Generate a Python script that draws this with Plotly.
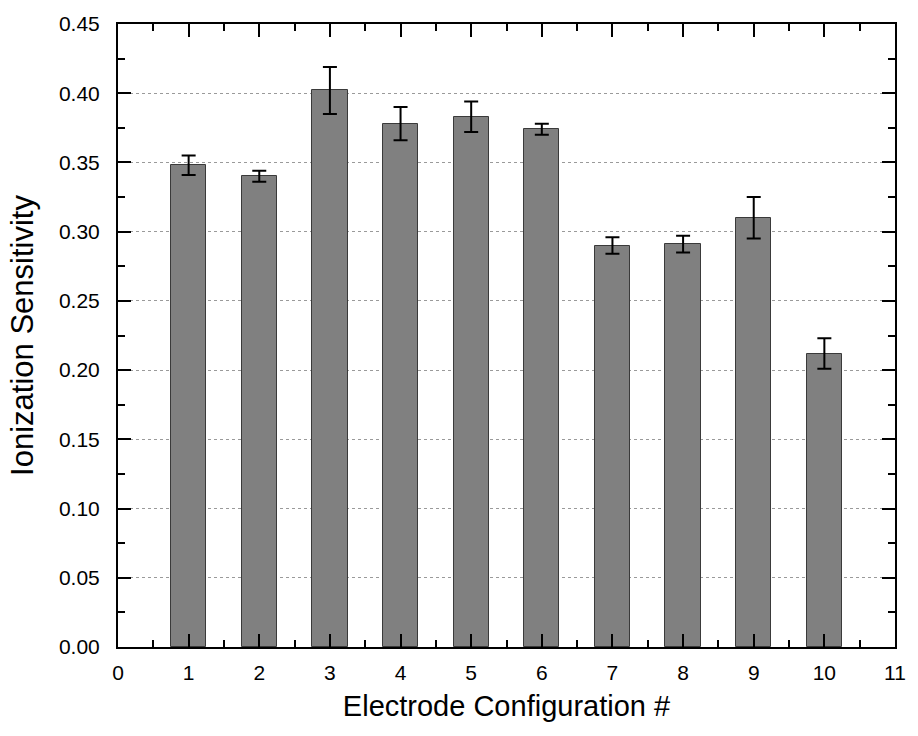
import plotly.graph_objects as go

# Electrode configurations and measured ionization sensitivity (mean ± error)
configs = [1, 2, 3, 4, 5, 6, 7, 8, 9, 10]
sensitivity = [0.348, 0.340, 0.402, 0.378, 0.383, 0.374, 0.290, 0.291, 0.310, 0.212]
errors = [0.007, 0.004, 0.017, 0.012, 0.011, 0.004, 0.006, 0.006, 0.015, 0.011]

x_ticks = list(range(0, 12))
y_ticks = [0.00, 0.05, 0.10, 0.15, 0.20, 0.25, 0.30, 0.35, 0.40, 0.45]

FONT = "Liberation Sans, Arial, sans-serif"
tick_font = dict(family=FONT, size=21, color="black")

fig = go.Figure()
fig.add_trace(go.Bar(
    x=configs,
    y=sensitivity,
    width=0.5,
    marker=dict(color="#808080", line=dict(color="#3a3a3a", width=1)),
    error_y=dict(type="data", array=errors, visible=True,
                 color="black", thickness=2, width=7),
))

fig.update_layout(
    width=918, height=736,
    margin=dict(l=118, r=15, t=24, b=89),
    paper_bgcolor="white", plot_bgcolor="white",
    showlegend=False,
    bargap=0,
    font=tick_font,
)

fig.update_xaxes(
    range=[0, 11],
    tickmode="array", tickvals=x_ticks, ticktext=[str(v) for v in x_ticks],
    ticks="inside", ticklen=13, tickwidth=2, tickcolor="black",
    minor=dict(dtick=0.5, ticks="inside", ticklen=7, tickwidth=2, tickcolor="black"),
    showline=True, linewidth=2, linecolor="black", mirror="allticks",
    showgrid=False, zeroline=False,
    tickfont=tick_font, ticklabelstandoff=6,
    title=dict(text="Electrode Configuration #",
               font=dict(family=FONT, size=29, color="black"), standoff=12),
)

fig.update_yaxes(
    range=[0, 0.45],
    tickmode="array", tickvals=y_ticks, ticktext=[f"{v:.2f}" for v in y_ticks],
    ticks="inside", ticklen=13, tickwidth=2, tickcolor="black",
    minor=dict(dtick=0.025, ticks="inside", ticklen=7, tickwidth=2, tickcolor="black",
               showgrid=False),
    showline=True, linewidth=2, linecolor="black", mirror="allticks",
    showgrid=True, gridcolor="#9a9a9a", gridwidth=1, griddash="dot",
    zeroline=False,
    tickfont=tick_font, ticklabelstandoff=12,
    title=dict(text="Ionization Sensitivity",
               font=dict(family=FONT, size=31, color="black"), standoff=16),
)

fig.write_html("out.html")
